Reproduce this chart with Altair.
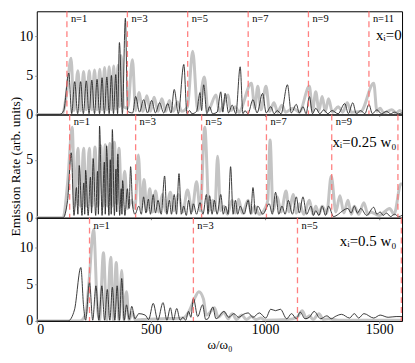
import altair as alt
import pandas as pd

FONT = "Liberation Serif"

# ---------------- Panel 1 : x_i = 0 ----------------
p1_black_w = [0, 100, 118, 140, 153, 166, 179, 192, 204, 217, 229, 241, 253, 264, 275, 286, 296, 307, 317, 327,
              336, 346, 354, 362, 375, 388, 398, 420, 433, 450, 468, 485, 503, 520, 538, 556, 574, 588, 602, 620,
              644, 658, 669, 680, 700, 715, 722, 731, 745, 757, 770, 790, 806, 815, 825, 840, 856, 872, 891, 903,
              912, 925, 947, 965, 989, 1005, 1025, 1040, 1053, 1070, 1098, 1115, 1137, 1150, 1166, 1180, 1194, 1208,
              1222, 1240, 1257, 1275, 1293, 1320, 1349, 1365, 1384, 1400, 1419, 1437, 1455, 1470, 1490, 1510, 1532,
              1550, 1567, 1585, 1600]
p1_black_v = [0, 0, 0.5, 5.3, 0.1, 4.2, 0.1, 4.2, 0.1, 4.3, 0.1, 4.4, 0.1, 4.5, 0.1, 4.7, 0.1, 4.8, 0.1, 5.0,
              0.1, 5.1, 0.1, 9.2, 0.1, 12.3, 0.4, 0.2, 2.3, 0.3, 1.9, 0.2, 1.8, 0.2, 1.5, 0.2, 1.4, 0.2, 3.2, 0.1,
              6.4, 0.1, 0.5, 0.1, 0.4, 2.8, 0.5, 3.8, 0.1, 1.0, 0.1, 0.3, 2.9, 0.3, 2.7, 0.2, 1.2, 0.1, 6.1, 0.1,
              0.5, 0.1, 1.9, 0.2, 2.7, 0.2, 1.0, 0.1, 0.5, 0.1, 3.8, 0.2, 1.3, 0.2, 1.0, 0.1, 2.3, 0.1,
              0.8, 0.1, 0.6, 0.1, 0.5, 0.1, 1.4, 0.1, 1.5, 0.1, 0.5, 0.1, 1.3, 0.1, 0.6, 0.1, 0.4,
              0.1, 0.3, 0.1, 0.2]
p1_gray_w = [0, 110, 130, 150, 163, 180, 192, 205, 217, 230, 241, 253, 264, 276, 286, 297, 307, 317, 327, 337,
             346, 356, 362, 370, 380, 398, 419, 433, 447, 465, 482, 498, 514, 531, 548, 565, 581, 598, 616, 635,
             660, 683, 705, 734, 750, 785, 800, 838, 850, 870, 885, 940, 955, 968, 982, 1004, 1020, 1039, 1055,
             1074, 1090, 1123, 1150, 1194, 1208, 1222, 1236, 1250, 1264, 1278, 1295, 1321, 1340, 1360, 1378, 1420,
             1476, 1490, 1504, 1520, 1555, 1574, 1590, 1600]
p1_gray_v = [0, 0, 2.5, 7.2, 0.5, 5.6, 0.5, 5.5, 0.6, 5.6, 0.6, 5.7, 0.6, 5.8, 0.6, 6.0, 0.6, 6.1, 0.6, 6.2,
             0.7, 6.3, 1.0, 7.5, 1.0, 0.8, 7.0, 0.5, 2.8, 0.4, 2.4, 0.4, 2.2, 0.4, 2.0, 0.4, 1.8, 0.4, 1.6, 0.4,
             1.0, 8.1, 0.5, 4.8, 0.5, 2.5, 0.4, 2.5, 0.5, 1.0, 0.3, 4.0, 0.8, 3.6, 0.6, 3.6, 0.4, 1.5, 0.3,
             1.2, 0.3, 0.8, 0.3, 3.6, 0.5, 2.9, 0.5, 2.3, 0.4, 2.0, 0.3, 1.0, 0.3, 1.5, 0.3, 0.4,
             4.0, 0.4, 0.8, 0.2, 0.6, 0.2, 0.5, 0.3]
p1_lines_w = [132, 397, 661, 926, 1190, 1455]
p1_lines_lab = ["n=1", "n=3", "n=5", "n=7", "n=9", "n=11"]

# ---------------- Panel 2 : x_i = 0.25 w0 ----------------
p2_black_w = [0, 115, 135, 151, 163, 174, 180, 186, 198, 206, 210, 214, 225, 235, 240, 247, 258, 266, 270, 275,
              286, 296, 300, 306, 316, 322, 326, 331, 340, 347, 350, 355, 363, 370, 373, 376, 386, 397, 404, 411,
              420, 430, 447, 458, 468, 478, 489, 498, 510, 520, 531, 545, 560, 570, 581, 590, 602, 612, 623, 633,
              644, 655, 665, 676, 686, 700, 715, 728, 743, 750, 757, 768, 778, 790, 806, 817, 827, 838, 849, 860,
              870, 880, 891, 908, 926, 937, 947, 958, 968, 990, 1018, 1032, 1046, 1060, 1074, 1088, 1102, 1120,
              1137, 1150, 1166, 1182, 1201, 1212, 1222, 1236, 1250, 1265, 1278, 1300, 1321, 1340, 1363, 1377,
              1391, 1405, 1419, 1445, 1476, 1490, 1504, 1518, 1532, 1550, 1567, 1585, 1600]
p2_black_v = [0, 0, 1.5, 5.6, 0.2, 2.6, 0.3, 4.5, 0.2, 3.0, 0.3, 4.1, 0.2, 3.5, 0.4, 5.1, 0.2, 4.0, 0.3, 7.9,
              0.2, 4.8, 0.3, 6.2, 0.2, 5.0, 0.3, 7.6, 0.2, 4.2, 0.5, 5.5, 0.2, 2.5, 0.3, 3.2, 0.2, 2.5, 0.8, 4.4,
              1.0, 0.3, 1.0, 0.3, 1.8, 0.4, 1.6, 0.3, 2.0, 0.4, 1.5, 0.3, 3.6, 0.3, 1.5, 0.3, 2.0, 0.3, 3.8, 0.3,
              1.0, 0.2, 1.5, 0.3, 1.2, 0.3, 1.3, 0.3, 2.0, 0.3, 1.9, 0.3, 1.5, 0.3, 2.0, 0.3, 1.0, 0.3, 4.4, 0.3,
              1.5, 0.3, 1.0, 0.3, 1.5, 0.3, 2.6, 0.3, 1.0, 0.3, 1.2, 0.3, 2.2, 0.3, 1.0, 0.3, 1.5, 0.3,
              1.8, 0.4, 1.8, 0.3, 1.0, 0.2, 0.6, 0.2, 1.0, 0.2, 1.0, 0.1, 0.3, 0.6, 0.8, 0.4,
              1.0, 0.4, 0.8, 0.2, 0.9, 0.3, 0.5, 0.2, 0.4, 0.1, 0.3, 0.1, 0.2]
p2_gray_w = [0, 115, 135, 155, 167, 180, 192, 205, 217, 230, 242, 255, 267, 280, 290, 300, 310, 320, 330, 340,
             350, 360, 372, 385, 398, 415, 430, 445, 458, 470, 482, 495, 508, 520, 535, 550, 565, 585, 600, 620,
             640, 660, 680, 700, 716, 736, 755, 771, 780, 792, 805, 820, 835, 856, 870, 884, 900, 926, 940, 954,
             975, 1000, 1012, 1022, 1035, 1053, 1070, 1092, 1105, 1123, 1137, 1151, 1170, 1194, 1210, 1222, 1236,
             1250, 1270, 1290, 1310, 1328, 1345, 1363, 1378, 1391, 1410, 1433, 1450, 1462, 1500, 1546, 1565,
             1595, 1600]
p2_gray_v = [0, 0, 3.0, 7.8, 1.0, 6.0, 1.0, 6.0, 1.0, 6.0, 1.0, 6.1, 1.0, 6.2, 1.0, 6.3, 1.0, 6.4, 1.0, 6.5,
             1.2, 6.0, 1.0, 4.0, 0.8, 1.5, 0.8, 5.4, 0.8, 3.3, 0.6, 2.5, 0.5, 2.3, 0.5, 2.0, 0.5, 2.2, 0.6, 2.0,
             0.5, 2.4, 0.6, 3.1, 0.6, 7.8, 0.6, 1.5, 0.6, 5.3, 0.6, 1.0, 0.3, 1.5, 0.4, 1.6, 0.4, 1.5, 0.4, 1.0,
             0.3, 0.8, 1.5, 6.7, 0.6, 1.8, 0.5, 2.3, 0.5, 2.0, 0.4, 1.2, 0.3, 1.5, 0.3, 1.0, 0.3,
             1.0, 0.4, 3.6, 0.5, 1.9, 0.4, 1.5, 0.3, 1.0, 0.3, 1.3, 0.3, 0.5, 0.2, 0.8, 0.3,
             2.9, 2.9]
p2_lines_w = [144, 433, 722, 1006, 1292, 1582]
p2_lines_lab = ["n=1", "n=3", "n=5", "n=7", "n=9", ""]

# ---------------- Panel 3 : x_i = 0.5 w0 ----------------
p3_black_w = [0, 137, 165, 193, 205, 214, 231, 245, 259, 272, 285, 297, 309, 320, 331, 342, 352, 362, 372, 383,
              393, 405, 416, 430, 447, 475, 490, 510, 530, 553, 570, 585, 598, 613, 628, 640, 652, 665, 675, 686,
              705, 726, 740, 750, 771, 785, 792, 820, 841, 863, 884, 905, 926, 947, 975, 1003, 1025, 1046, 1067,
              1095, 1116, 1137, 1154, 1175, 1194, 1215, 1243, 1271, 1290, 1307, 1335, 1370, 1391, 1410, 1433,
              1476, 1504, 1539, 1574, 1600]
p3_black_v = [0, 0, 1.5, 7.3, 2.0, 0.1, 5.3, 0.1, 4.8, 0.1, 4.8, 0.1, 4.3, 0.1, 4.6, 0.1, 4.8, 0.1, 5.8, 0.1,
              2.2, 0.2, 2.0, 0.3, 1.0, 0.8, 0.2, 2.4, 0.1, 2.5, 0.1, 1.8, 0.1, 1.7, 0.1, 0.5, 0.1, 1.3, 0.5, 3.1,
              0.6, 2.2, 0.2, 0.3, 1.9, 0.3, 0.4, 1.3, 0.5, 1.0, 0.5, 0.9, 1.1, 0.5, 1.1, 0.4, 1.6, 1.4, 1.6,
              0.3, 1.0, 0.3, 1.2, 0.3, 0.5, 1.3, 0.3, 0.7, 0.3, 0.6, 0.9, 0.4, 1.0, 0.4, 1.0,
              0.4, 0.8, 0.5, 0.6, 0.6]
p3_gray_w = [0, 190, 215, 228, 249, 265, 275, 292, 307, 324, 336, 348, 360, 372, 382, 393, 404, 419, 432, 460,
             550, 640, 670, 690, 710, 730, 743, 760, 778, 795, 820, 838, 856, 875, 898, 918, 940, 960, 982, 1000,
             1100, 1140, 1163, 1180, 1194, 1210, 1236, 1255, 1278, 1320, 1600]
p3_gray_v = [0, 0, 1.0, 5.0, 12.5, 2.0, 0.1, 9.3, 0.1, 8.7, 0.1, 8.0, 0.1, 6.9, 0.1, 4.0, 0.1, 1.2, 0.1, 0.2,
             0.3, 0.4, 1.5, 3.0, 4.0, 3.0, 0.8, 1.2, 1.8, 0.5, 1.2, 0.3, 1.0, 0.2, 0.8, 0.2, 0.6, 0.2, 0.4, 0.1,
             0.2, 0.5, 1.4, 0.4, 0.7, 0.2, 1.0, 0.2, 0.3, 0.1, 0.1]
p3_lines_w = [231, 686, 1142, 1597]
p3_lines_lab = ["n=1", "n=3", "n=5", ""]

annot_text = ["xᵢ=0", "xᵢ=0.25 w₀", "xᵢ=0.5 w₀"]
annot_w = [1598, 1575, 1575]
annot_v = [10.2, 6.5, 10.9]
y_max = [13.2, 8.9, 14.1]
y_ticks = [[0, 5, 10], [0, 5], [0, 5, 10]]

PLOT_W = 368
PLOT_H = [104, 104, 104]


def panel(bw, bv, gw, gv, lw, llab, idx, bottom, ytitle):
    d_black = pd.DataFrame({"w": bw, "v": bv})
    d_gray = pd.DataFrame({"w": gw, "v": gv})
    d_lines = pd.DataFrame({"w": lw, "lab": llab})
    d_ann = pd.DataFrame({"w": [annot_w[idx]], "v": [annot_v[idx]], "t": [annot_text[idx]]})

    if bottom:
        xaxis = alt.Axis(values=[0, 500, 1000, 1500], format="d", title="ω/ω₀", labelFont=FONT,
                         labelFontSize=14, titleFont=FONT, titleFontSize=13, titleFontWeight="normal",
                         tickSize=2, labelPadding=0, titlePadding=2, domain=False, grid=False)
    else:
        xaxis = alt.Axis(values=[0, 500, 1000, 1500], labels=False, title=None, tickSize=2,
                         domain=False, grid=False)
    yaxis_kw = dict(values=y_ticks[idx], labelFont=FONT, labelFontSize=14, tickSize=2, labelPadding=2,
                    domain=False, grid=False)
    if ytitle:
        yaxis = alt.Axis(title=ytitle, titleFont=FONT, titleFontSize=13.5, titleFontWeight="normal",
                         titleX=-14, titleBaseline="bottom", **yaxis_kw)
    else:
        yaxis = alt.Axis(title=None, **yaxis_kw)

    xs = alt.Scale(domain=[0, 1600], nice=False)
    ys = alt.Scale(domain=[0, y_max[idx]], nice=False)

    gray = alt.Chart(d_gray).mark_line(color="#c4c4c4", strokeWidth=3, interpolate="monotone", clip=True).encode(
        x=alt.X("w:Q", scale=xs, axis=xaxis), y=alt.Y("v:Q", scale=ys, axis=yaxis))
    black = alt.Chart(d_black).mark_line(color="#262626", strokeWidth=0.9, interpolate="monotone", clip=True).encode(
        x=alt.X("w:Q", scale=xs), y=alt.Y("v:Q", scale=ys))
    rules = alt.Chart(d_lines).mark_rule(color="#ff6b6b", strokeDash=[6, 4], strokeWidth=1.3, opacity=0.85).encode(
        x=alt.X("w:Q", scale=xs))
    labels = alt.Chart(d_lines).mark_text(align="left", baseline="middle", dx=4, font=FONT, fontSize=10.5,
                                          color="black").encode(
        x=alt.X("w:Q", scale=xs), y=alt.value(8), text="lab:N")
    ann = alt.Chart(d_ann).mark_text(align="right", baseline="middle", font=FONT, fontSize=15,
                                     color="black").encode(
        x=alt.X("w:Q", scale=xs), y=alt.Y("v:Q", scale=ys), text="t:N")
    return alt.layer(gray, black, rules, labels, ann).properties(width=PLOT_W, height=PLOT_H[idx])


p1 = panel(p1_black_w, p1_black_v, p1_gray_w, p1_gray_v, p1_lines_w, p1_lines_lab, 0, False, None)
p2 = panel(p2_black_w, p2_black_v, p2_gray_w, p2_gray_v, p2_lines_w, p2_lines_lab, 1, False,
           "Emission Rate (arb. units)")
p3 = panel(p3_black_w, p3_black_v, p3_gray_w, p3_gray_v, p3_lines_w, p3_lines_lab, 2, True, None)

chart = alt.vconcat(p1, p2, p3, spacing=0, bounds="flush").properties(
    padding={"left": 0, "top": 0, "right": 1, "bottom": 0}
).configure_view(stroke="black", strokeWidth=1).configure_axis(
    labelFont=FONT, titleFont=FONT
).configure_text(font=FONT)

chart.save("out.html", embed_options={"renderer": "svg", "actions": False})
